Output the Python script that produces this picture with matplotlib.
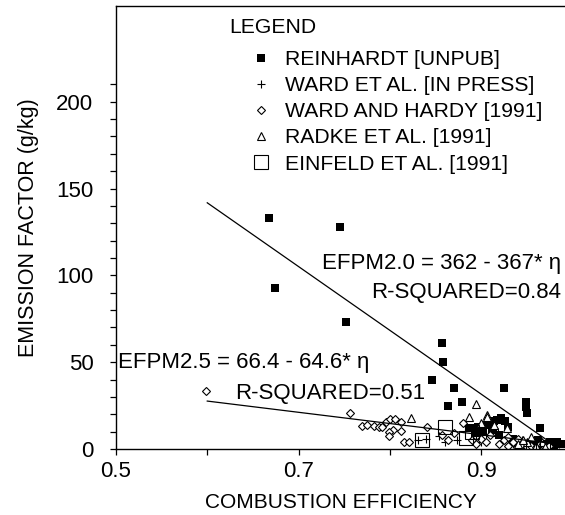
import numpy as np
import matplotlib
matplotlib.use('Agg')
import matplotlib.pyplot as plt

plt.rcParams['font.family'] = ['Liberation Sans', 'DejaVu Sans']

## Data (combustion efficiency, emission factor g/kg)

reinhardt_ce = [0.668, 0.674, 0.745, 0.752, 0.857, 0.858, 0.846, 0.870, 0.879, 0.864,
                0.925, 0.949, 0.949, 0.950, 0.965, 0.976, 0.983, 0.988, 0.980,
                0.888, 0.893, 0.897, 0.902, 0.905, 0.910, 0.914, 0.918, 0.922, 0.926,
                0.930, 0.912, 0.920, 0.935, 0.940, 0.945, 0.950, 0.955, 0.960, 0.962,
                0.968, 0.972, 0.978]
reinhardt_ef = [133, 93, 128, 73, 61, 50, 40, 35, 27, 25,
                35, 27, 24, 21, 12, 4, 4, 3, 2,
                12, 9, 13, 10, 14, 15, 16, 17, 18, 16,
                13, 11, 8, 6, 4, 3, 2, 3, 2, 5,
                3, 2, 1.5]

ward_ce = [0.831, 0.840, 0.854, 0.860, 0.874, 0.895, 0.900, 0.905, 0.916, 0.919,
           0.922, 0.930, 0.935, 0.940, 0.945, 0.950, 0.955, 0.960, 0.965, 0.970,
           0.975, 0.980, 0.985]
ward_ef = [5, 6, 7.5, 4, 5, 6, 4, 8, 9, 10,
           4, 5, 3, 2, 5, 3, 2, 4, 1, 3,
           2, 1.5, 3]

hardy_ce = [0.599, 0.756, 0.770, 0.775, 0.783, 0.788, 0.792, 0.796, 0.800, 0.806,
            0.812, 0.803, 0.799, 0.799, 0.812, 0.816, 0.821, 0.841, 0.864, 0.880,
            0.857, 0.870, 0.890, 0.895, 0.900, 0.905, 0.910, 0.920, 0.925, 0.930,
            0.935, 0.940, 0.945, 0.950, 0.955, 0.960, 0.965, 0.970, 0.975, 0.930, 0.940]
hardy_ef = [33.5, 21, 13.5, 14, 13.5, 12.5, 13, 15.6, 17.3, 17.3,
            15.6, 11, 10, 7.5, 10.4, 4, 4, 12.7, 5.2, 15,
            8, 9, 5, 3, 6, 4, 8, 3, 5, 2,
            4, 1.5, 3, 1, 2, 1, 3, 1, 2, 7, 6]

radke_ce = [0.823, 0.887, 0.894, 0.906, 0.907, 0.900, 0.928, 0.914, 0.955, 0.967,
            0.960, 0.970, 0.950, 0.940, 0.946]
radke_ef = [18, 18.4, 26, 19.6, 18.4, 15, 12, 14, 7, 4,
            2, 1, 4, 3, 5]

einfeld_ce = [0.835, 0.860, 0.884, 0.890, 0.957, 0.968]
einfeld_ef = [5.5, 12.5, 6.5, 10, 0.8, 0.8]

# regression fits
pm20_coef = (362, -367)
pm20_range = (0.6, 0.975)
pm25_coef = (66.4, -64.6)
pm25_range = (0.6, 0.98)

fs = 15.2      # legend text
fs_eq = 16     # equation annotations

fig = plt.figure(figsize=(5.65, 5.15), dpi=100)
ax = fig.add_axes([0.2053, 0.128, 0.7947, 0.860])

ax.plot(reinhardt_ce, reinhardt_ef, 's', color='black', ms=5.5, mew=0,
        label='REINHARDT [UNPUB]')
ax.plot(ward_ce, ward_ef, '+', color='black', ms=5.5, mew=0.8,
        label='WARD ET AL. [IN PRESS]')
ax.plot(hardy_ce, hardy_ef, 'D', mfc='white', mec='black', ms=4.5, mew=0.8,
        label='WARD AND HARDY [1991]')
ax.plot(radke_ce, radke_ef, '^', mfc='white', mec='black', ms=5.5, mew=0.8,
        label='RADKE ET AL. [1991]')
ax.plot(einfeld_ce, einfeld_ef, 's', mfc='none', mec='black', ms=10.5, mew=0.8,
        label='EINFELD ET AL. [1991]')

x = np.array(pm20_range)
ax.plot(x, pm20_coef[0] + pm20_coef[1] * x, color='black', lw=0.9)
x = np.array(pm25_range)
ax.plot(x, pm25_coef[0] + pm25_coef[1] * x, color='black', lw=0.9)

ax.text(0.988, 107, 'EFPM2.0 = 362 - 367* \u03b7', ha='right', va='center', fontsize=fs_eq)
ax.text(0.988, 90, 'R-SQUARED=0.84', ha='right', va='center', fontsize=fs_eq)
ax.text(0.502, 49.6, 'EFPM2.5 = 66.4 - 64.6* \u03b7', ha='left', va='center', fontsize=fs_eq)
ax.text(0.631, 32, 'R-SQUARED=0.51', ha='left', va='center', fontsize=fs_eq)

ax.text(0.624, 243, 'LEGEND', ha='left', va='center', fontsize=fs)
ax.legend(loc='upper left', bbox_to_anchor=(0.277, 0.925), frameon=False,
          fontsize=fs, handlelength=1.0, handletextpad=0.6, labelspacing=0.34,
          borderpad=0, numpoints=1)

ax.set_xlim(0.5, 0.992)
ax.set_ylim(0, 255)
ax.set_xticks([0.5, 0.7, 0.9])
ax.set_xticks([0.6, 0.8], minor=True)
ax.set_yticks([0, 50, 100, 150, 200])
ax.set_yticks(np.arange(0, 211, 10), minor=True)
ax.tick_params(which='both', direction='out', length=4.3, width=0.9, labelsize=16)
ax.tick_params(axis='y', which='both', pad=12)
ax.tick_params(axis='x', which='both', pad=4)
ax.spines['right'].set_visible(False)
for s in ['left', 'bottom', 'top']:
    ax.spines[s].set_linewidth(1.0)

ax.set_xlabel('COMBUSTION EFFICIENCY', fontsize=15, labelpad=8)
ax.set_ylabel('EMISSION FACTOR (g/kg)', fontsize=15.5, labelpad=12)

fig.savefig('out.png', dpi=100)
